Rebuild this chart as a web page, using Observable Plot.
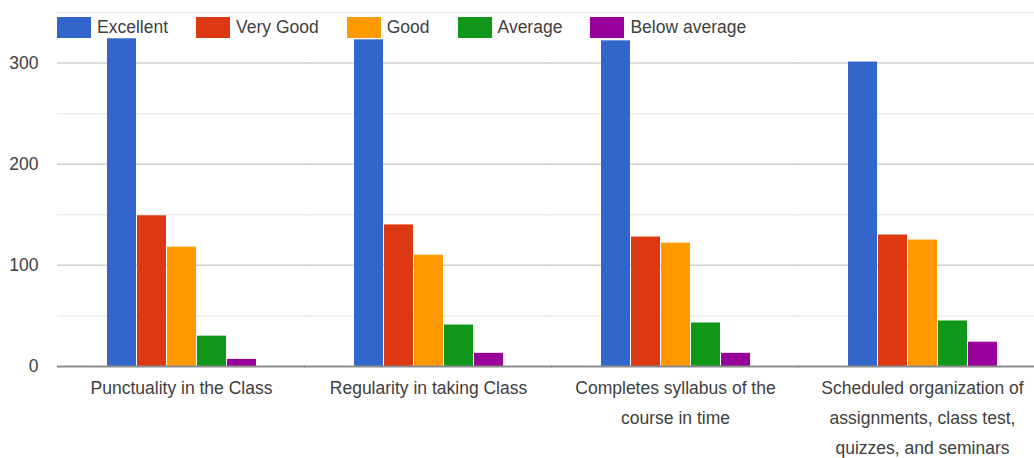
<!DOCTYPE html>
<html>
<head>
<meta charset="utf-8">
<script src="https://cdn.jsdelivr.net/npm/d3@7"></script>
<script src="https://cdn.jsdelivr.net/npm/@observablehq/plot@0.6"></script>
<style>
  html, body { margin: 0; padding: 0; background: #fff; }
  #chart { position: relative; width: 1034px; height: 458px; overflow: hidden; }
  #legend { position: absolute; left: 57px; top: 11px; }
  .lg-swatch { margin-right: 28px !important; }
  .lg-swatch > svg { margin-right: 6px !important; }
</style>
</head>
<body>
<div id="chart"><div id="legend"></div></div>
<script>
const FONT = '"Liberation Sans", Arial, sans-serif';

const groups = [
  "Punctuality in the Class",
  "Regularity in taking Class",
  "Completes syllabus of the course in time",
  "Scheduled organization of assignments, class test, quizzes, and seminars"
];
const groupLabels = [
  "Punctuality in the Class",
  "Regularity in taking Class",
  "Completes syllabus of the\ncourse in time",
  "Scheduled organization of\nassignments, class test,\nquizzes, and seminars"
];
const series = ["Excellent", "Very Good", "Good", "Average", "Below average"];
const excellent    = [324, 323, 322, 301];
const veryGood     = [149, 140, 128, 130];
const good         = [118, 110, 122, 125];
const average      = [30, 41, 43, 45];
const belowAverage = [7, 13, 13, 24];
const colors = ["#3366cc", "#dc3912", "#ff9900", "#109618", "#990099"];
const yTicks = [0, 100, 200, 300];
const minorTicks = [50, 150, 250, 350];

const valuesBySeries = [excellent, veryGood, good, average, belowAverage];
const data = [];
groups.forEach((g, gi) => {
  series.forEach((s, si) => data.push({group: g, series: s, value: valuesBySeries[si][gi]}));
});

const plot = Plot.plot({
  width: 1034,
  height: 458,
  marginLeft: 57,
  marginRight: 0,
  marginTop: 12,
  marginBottom: 92,
  style: {fontFamily: FONT, fontSize: "17.5px", color: "#404040", background: "#fff"},
  fx: {domain: groups, range: [57.5, 1045.5], paddingInner: 0.385, paddingOuter: 0.1925, label: null, axis: null},
  x: {domain: series, paddingInner: 0.05, paddingOuter: 0, axis: null},
  y: {domain: [0, 350], axis: null},
  color: {domain: series, range: colors},
  marks: [
    Plot.ruleY(minorTicks, {stroke: "#ebebeb", strokeWidth: 1.5, insetLeft: -48, insetRight: -48}),
    Plot.ruleY(yTicks.filter(d => d > 0), {stroke: "#d0d0d0", strokeWidth: 1.5, insetLeft: -48, insetRight: -48}),
    Plot.barY(data, {fx: "group", x: "series", y: "value", fill: "series"}),
    Plot.ruleY([0], {stroke: "#8c8c8c", strokeWidth: 2, insetLeft: -48, insetRight: -48}),
    Plot.axisY(yTicks, {tickSize: 0, tickPadding: 67, fill: "#404040", fontSize: 17.5, label: null}),
    Plot.axisFx({anchor: "bottom", tickSize: 0, tickPadding: 6, lineHeight: 1.71, fill: "#404040", fontSize: 17.5,
      tickFormat: d => groupLabels[groups.indexOf(d)], label: null})
  ]
});
document.getElementById("chart").insertBefore(plot, document.getElementById("legend"));

const legend = plot.legend("color", {
  legend: "swatches",
  swatchWidth: 34,
  swatchHeight: 21,
  className: "lg",
  style: {fontFamily: FONT, fontSize: "17.5px", color: "#404040", marginLeft: "0px"}
});
document.getElementById("legend").appendChild(legend);
</script>
</body>
</html>
